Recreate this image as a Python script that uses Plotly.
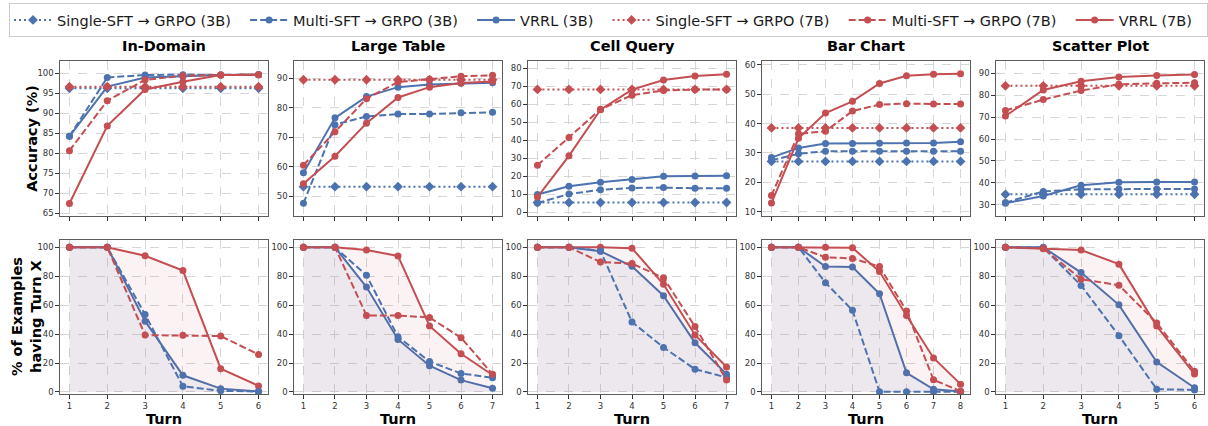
import plotly.graph_objects as go

# ---------------- data ----------------
TASKS = ["In-Domain", "Large Table", "Cell Query", "Bar Chart", "Scatter Plot"]
TURNS = [
    [1, 2, 3, 4, 5, 6],
    [1, 2, 3, 4, 5, 6, 7],
    [1, 2, 3, 4, 5, 6, 7],
    [1, 2, 3, 4, 5, 6, 7, 8],
    [1, 2, 3, 4, 5, 6],
]

# Accuracy (%) per turn
ACC_SINGLE_3B = [
    [96.2, 96.2, 96.2, 96.2, 96.2, 96.2],
    [53.3, 53.3, 53.3, 53.3, 53.3, 53.3, 53.3],
    [5.3, 5.3, 5.3, 5.3, 5.3, 5.3, 5.3],
    [27.1, 27.1, 27.1, 27.1, 27.1, 27.1, 27.1, 27.1],
    [34.8, 34.8, 34.8, 34.8, 34.8, 34.8],
]
ACC_MULTI_3B = [
    [84.2, 98.9, 99.5, 99.6, 99.5, 99.6],
    [47.7, 74.3, 77.1, 77.9, 77.9, 78.3, 78.5],
    [5.0, 10.0, 12.4, 13.4, 13.6, 13.2, 13.3],
    [27.5, 29.7, 30.6, 30.6, 30.6, 30.6, 30.6, 30.6],
    [31.0, 36.1, 37.1, 37.2, 37.2, 37.2],
]
ACC_VRRL_3B = [
    [84.2, 96.6, 98.9, 99.2, 99.5, 99.6],
    [58.0, 76.6, 83.8, 87.0, 87.9, 88.3, 88.5],
    [9.8, 14.4, 16.6, 18.1, 19.9, 20.0, 20.2],
    [28.4, 31.7, 33.2, 33.2, 33.3, 33.4, 33.4, 33.8],
    [30.7, 34.0, 38.9, 40.3, 40.4, 40.4],
]
ACC_SINGLE_7B = [
    [96.6, 96.6, 96.6, 96.6, 96.6, 96.6],
    [89.5, 89.5, 89.5, 89.5, 89.5, 89.5, 89.5],
    [68.3, 68.3, 68.3, 68.3, 68.3, 68.3, 68.3],
    [38.5, 38.5, 38.5, 38.5, 38.5, 38.5, 38.5, 38.5],
    [84.3, 84.3, 84.3, 84.3, 84.3, 84.3],
]
ACC_MULTI_7B = [
    [80.6, 93.1, 98.3, 99.3, 99.5, 99.6],
    [60.6, 71.9, 83.1, 88.7, 89.7, 90.7, 91.0],
    [26.1, 41.5, 57.2, 65.1, 67.7, 68.2, 68.3],
    [15.5, 36.5, 37.4, 44.3, 46.5, 46.8, 46.7, 46.7],
    [73.0, 78.0, 82.1, 85.0, 85.4, 85.7],
]
ACC_VRRL_7B = [
    [67.4, 86.8, 95.9, 97.8, 99.5, 99.6],
    [54.3, 63.6, 74.8, 83.5, 87.0, 88.4, 88.9],
    [8.3, 31.3, 57.0, 68.2, 73.5, 75.8, 76.8],
    [12.9, 35.0, 43.6, 47.6, 53.7, 56.3, 56.8, 57.0],
    [70.5, 82.4, 86.4, 88.3, 89.0, 89.4],
]

# % of examples having turn X
REACH_MULTI_3B = [
    [100, 100, 53.6, 3.9, 0.8, 0.3],
    [100, 100, 80.6, 38.2, 21.0, 12.8, 9.8],
    [100, 100, 97.5, 48.3, 30.8, 15.7, 10.0],
    [100, 100, 75.5, 56.4, 0.2, 0.2, 0.2, 0.2],
    [100, 99.8, 73.6, 38.9, 1.9, 1.4],
]
REACH_VRRL_3B = [
    [100, 100, 48.9, 11.5, 2.3, 0.3],
    [100, 100, 72.5, 36.3, 18.1, 8.2, 2.6],
    [100, 100, 97.3, 86.8, 66.5, 34.0, 12.3],
    [100, 100, 86.7, 86.3, 67.9, 13.2, 1.8, 0.3],
    [100, 100, 82.5, 60.2, 20.7, 2.9],
]
REACH_MULTI_7B = [
    [100, 100, 39.3, 39.2, 38.6, 25.9],
    [100, 100, 52.9, 52.8, 51.5, 37.5, 12.3],
    [100, 100, 89.8, 88.7, 78.9, 45.2, 8.2],
    [100, 100, 93.1, 92.3, 86.7, 56.0, 8.4, 0.5],
    [100, 99.3, 77.9, 73.8, 47.6, 14.3],
]
REACH_VRRL_7B = [
    [100, 100, 94.1, 83.9, 16.1, 4.2],
    [100, 100, 98.1, 94.0, 45.6, 26.4, 11.7],
    [100, 100, 100, 99.4, 74.4, 39.4, 17.2],
    [100, 100, 100, 99.6, 83.2, 52.8, 23.5, 5.4],
    [100, 99.0, 98.1, 88.3, 45.5, 12.4],
]

SERIES_NAMES = ["Single-SFT → GRPO (3B)", "Multi-SFT → GRPO (3B)", "VRRL (3B)",
                "Single-SFT → GRPO (7B)", "Multi-SFT → GRPO (7B)", "VRRL (7B)"]
Y_TITLE_TOP = "Accuracy (%)"
Y_TITLE_BOTTOM = "% of Examples<br>having Turn X"
X_TITLE = "Turn"

TOP_YRANGES = [[64.3, 102.9], [43.4, 95.7], [-2.2, 83.9], [8.5, 61.2], [24.9, 95.4]]
TOP_DTICK = [5, 10, 10, 10, 10]
BOT_YRANGE = [-1.6, 105.2]

# ---------------- styling ----------------
BLUE = "#4C72B0"
RED = "#C44E52"
DOT = "2px,3px"
DASH = "7px,3px"
W, H = 1208, 426
LEFTS = [60, 294, 528, 762, 996]
PW = 208
TOP_ROW = (61, 217)
BOT_ROW = (241, 397)
FONT = "DejaVu Sans"
PAD = "\u00a0\u00a0"

fig = go.Figure()


def ax_id(r, c):
    return r * 5 + c + 1


def add_line(r, c, x, y, color, dash, symbol, name, legend, fill=None):
    i = ax_id(r, c)
    kw = {}
    if fill:
        kw = dict(fill="tozeroy", fillcolor=fill)
    fig.add_trace(go.Scatter(
        x=x, y=y, mode="lines+markers", name=name + PAD,
        legendgroup=name, showlegend=legend,
        line=dict(color=color, width=2, dash=dash),
        marker=dict(color=color, size=7 if symbol == "circle" else 7.5, symbol=symbol,
                    line=dict(width=0)),
        xaxis="x" if i == 1 else f"x{i}", yaxis="y" if i == 1 else f"y{i}",
        cliponaxis=False, **kw))


n0, n1, n2, n3, n4, n5 = SERIES_NAMES
for c in range(5):
    x = TURNS[c]
    lg = c == 0
    add_line(0, c, x, ACC_SINGLE_3B[c], BLUE, DOT, "diamond", n0, lg)
    add_line(0, c, x, ACC_MULTI_3B[c], BLUE, DASH, "circle", n1, lg)
    add_line(0, c, x, ACC_VRRL_3B[c], BLUE, "solid", "circle", n2, lg)
    add_line(0, c, x, ACC_SINGLE_7B[c], RED, DOT, "diamond", n3, lg)
    add_line(0, c, x, ACC_MULTI_7B[c], RED, DASH, "circle", n4, lg)
    add_line(0, c, x, ACC_VRRL_7B[c], RED, "solid", "circle", n5, lg)

    add_line(1, c, x, REACH_VRRL_3B[c], BLUE, "solid", "circle", n2, False,
             fill="rgba(76,114,176,0.08)")
    add_line(1, c, x, REACH_VRRL_7B[c], RED, "solid", "circle", n5, False,
             fill="rgba(196,78,82,0.065)")
    add_line(1, c, x, REACH_MULTI_3B[c], BLUE, DASH, "circle", n1, False)
    add_line(1, c, x, REACH_MULTI_7B[c], RED, DASH, "circle", n4, False)

layout = dict(
    width=W, height=H, margin=dict(l=0, r=0, t=0, b=0),
    paper_bgcolor="white", plot_bgcolor="white",
    font=dict(family=FONT, color="#262626"),
    showlegend=True,
    legend=dict(orientation="h", x=9 / W, xanchor="left", y=1 - 2 / H, yanchor="top",
                font=dict(size=14.5, family=FONT, color="#1a1a1a"),
                bordercolor="#cccccc", borderwidth=1, bgcolor="white",
                itemwidth=38, tracegroupgap=0),
)

annotations = []
for r in range(2):
    top, bot = TOP_ROW if r == 0 else BOT_ROW
    for c in range(5):
        i = ax_id(r, c)
        n = len(TURNS[c])
        pad = 0.05 * (n - 1)
        xa = dict(
            domain=[LEFTS[c] / W, (LEFTS[c] + PW) / W],
            anchor="y" if i == 1 else f"y{i}",
            range=[1 - pad, n + pad],
            tickvals=TURNS[c], showticklabels=(r == 1),
            ticks="outside", ticklen=3.5, tickwidth=0.8, tickcolor="#333",
            tickfont=dict(size=8.5, color="#333"),
            showgrid=True, gridcolor="#d6d6d6", gridwidth=0.8, griddash="dash",
            showline=True, mirror=True, linecolor="#5c5c5c", linewidth=1.3,
            zeroline=False, fixedrange=True,
        )
        ya = dict(
            domain=[(H - bot) / H, (H - top) / H],
            anchor="x" if i == 1 else f"x{i}",
            range=TOP_YRANGES[c] if r == 0 else BOT_YRANGE,
            dtick=TOP_DTICK[c] if r == 0 else 20,
            tick0=0,
            ticks="outside", ticklen=3.5, tickwidth=0.8, tickcolor="#333",
            tickfont=dict(size=8.5, color="#333"),
            showgrid=True, gridcolor="#d6d6d6", gridwidth=0.8, griddash="dash",
            showline=True, mirror=True, linecolor="#5c5c5c", linewidth=1.3,
            zeroline=False, fixedrange=True,
        )
        layout["xaxis" if i == 1 else f"xaxis{i}"] = xa
        layout["yaxis" if i == 1 else f"yaxis{i}"] = ya

        cx = (LEFTS[c] + PW / 2) / W
        if r == 0:
            annotations.append(dict(text=f"<b>{TASKS[c]}</b>", x=cx, y=(H - 45) / H,
                                    xref="paper", yref="paper", showarrow=False,
                                    xanchor="center", yanchor="middle",
                                    font=dict(size=14.5, family=FONT, color="black")))
        else:
            annotations.append(dict(text=f"<b>{X_TITLE}</b>", x=cx, y=(H - 422) / H,
                                    xref="paper", yref="paper", showarrow=False,
                                    xanchor="center", yanchor="middle",
                                    font=dict(size=14.5, family=FONT, color="black")))

annotations.append(dict(text=f"<b>{Y_TITLE_TOP}</b>", x=32 / W, y=(H - 139) / H,
                        xref="paper", yref="paper", showarrow=False, textangle=-90,
                        xanchor="center", yanchor="middle",
                        font=dict(size=14.5, family=FONT, color="black")))
annotations.append(dict(text=f"<b>{Y_TITLE_BOTTOM}</b>", x=26 / W, y=(H - 319) / H,
                        xref="paper", yref="paper", showarrow=False, textangle=-90,
                        xanchor="center", yanchor="middle",
                        font=dict(size=14.5, family=FONT, color="black")))
layout["annotations"] = annotations

fig.update_layout(**layout)
fig.write_html("out.html", config={"displayModeBar": False},
               post_script="document.body.style.margin='0';document.body.style.overflow='hidden';")
